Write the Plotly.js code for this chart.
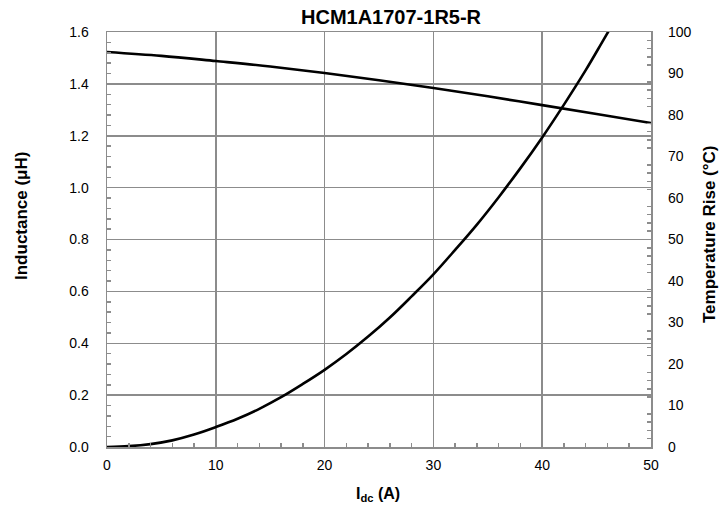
<!DOCTYPE html>
<html><head><meta charset="utf-8">
<script src="https://cdn.plot.ly/plotly-3.0.1.min.js"></script>
<style>html,body{margin:0;padding:0;background:#fff}#c{width:725px;height:514px}</style>
</head><body><div id="c"></div>
<script>
const currentL = [0, 5, 10, 15, 20, 25, 30, 35, 40, 45, 50];
const inductance = [1.523, 1.508, 1.488, 1.467, 1.442, 1.414, 1.384, 1.352, 1.318, 1.284, 1.249];
const currentT = [0, 2, 4, 6, 8, 10, 12, 14, 16, 18, 20, 22, 24, 26, 28, 30, 32, 34, 36, 38, 40, 42, 44, 45.5, 46.5];
const tempRise = [0, 0.2, 0.7, 1.6, 3.0, 4.8, 6.8, 9.2, 12.0, 15.2, 18.6, 22.4, 26.6, 31.2, 36.3, 41.6, 47.5, 53.6, 60.2, 67.2, 74.6, 82.5, 90.8, 97.5, 102];
const titleText = 'HCM1A1707-1R5-R';
const xTitle = 'I<sub>dc</sub> (A)';
const yTitle = 'Inductance (μH)';
const y2Title = 'Temperature Rise (°C)';

const fontFam = '"Liberation Sans", Arial, Helvetica, sans-serif';
const grid = '#8c8c8c';
const L = 107, R = 651, T = 32, B = 447;
const px = v => (v - L) / (R - L);
const py = v => (B - v) / (B - T);
const data = [
  {x: currentL, y: inductance, type: 'scatter', mode: 'lines', line: {color: '#000', width: 2.6, shape: 'spline'}, yaxis: 'y', hoverinfo: 'skip'},
  {x: currentT, y: tempRise, type: 'scatter', mode: 'lines', line: {color: '#000', width: 2.6, shape: 'spline'}, yaxis: 'y2', hoverinfo: 'skip'}
];
const layout = {
  width: 725, height: 514,
  margin: {l: L, r: 725 - R, t: T, b: 514 - B},
  paper_bgcolor: '#fff', plot_bgcolor: '#fff',
  showlegend: false,
  font: {family: fontFam, size: 14, color: '#000'},
  xaxis: {
    range: [0, 50], dtick: 10, tick0: 0, showgrid: true, gridcolor: grid, gridwidth: 1.5,
    showline: true, linecolor: grid, linewidth: 1.5, mirror: true, zeroline: false,
    ticks: '', ticklabelstandoff: 5,
    minor: {dtick: 2, ticks: 'inside', ticklen: 4, tickcolor: grid, tickwidth: 1.5, showgrid: false}
  },
  yaxis: {
    range: [0, 1.6], dtick: 0.2, tickformat: '.1f', showgrid: true, gridcolor: grid, gridwidth: 1.5,
    showline: true, linecolor: grid, linewidth: 1.5, mirror: true, zeroline: false,
    ticks: '', ticklabelstandoff: 14,
    minor: {dtick: 0.04, ticks: 'inside', ticklen: 4, tickcolor: grid, tickwidth: 1.5, showgrid: false}
  },
  yaxis2: {
    overlaying: 'y', side: 'right', range: [0, 100], dtick: 10,
    showgrid: false, zeroline: false, showline: false, ticks: '', ticklabelstandoff: 16,
    minor: {dtick: 2, ticks: 'inside', ticklen: 4, tickcolor: grid, tickwidth: 1.5, showgrid: false}
  },
  annotations: [
    {text: '<b>' + titleText + '</b>', xref: 'paper', yref: 'paper', x: px(391), y: py(17), xanchor: 'center', yanchor: 'middle', showarrow: false, font: {size: 20}},
    {text: '<b>' + xTitle + '</b>', xref: 'paper', yref: 'paper', x: px(378), y: py(494), xanchor: 'center', yanchor: 'middle', showarrow: false, font: {size: 16}},
    {text: '<b>' + yTitle + '</b>', xref: 'paper', yref: 'paper', x: px(21), y: py(216), xanchor: 'center', yanchor: 'middle', textangle: -90, showarrow: false, font: {size: 17}},
    {text: '<b>' + y2Title + '</b>', xref: 'paper', yref: 'paper', x: px(709), y: py(235), xanchor: 'center', yanchor: 'middle', textangle: -90, showarrow: false, font: {size: 17}}
  ]
};
Plotly.newPlot('c', data, layout, {staticPlot: true});
</script></body></html>
